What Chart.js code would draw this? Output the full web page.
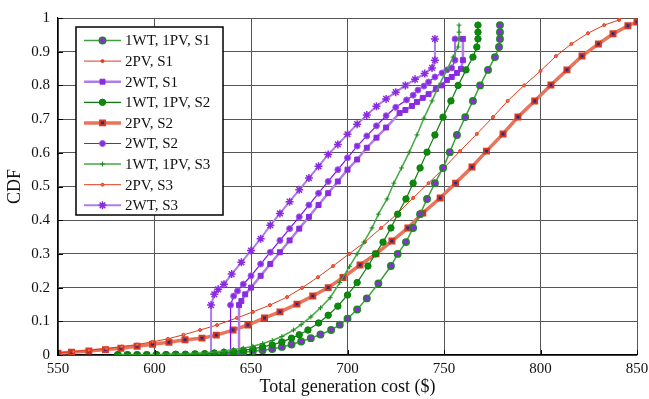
<!DOCTYPE html>
<html>
<head>
	<title>CDF of total generation cost</title>
	<style>
		body { margin: 0; background: #fff; }
		.chartBox { width: 649px; height: 399px; }
	</style>
</head>
<body>
	<div class="chartBox">
	<canvas id="cdfChart"></canvas>
	</div>

	<script src="https://cdn.jsdelivr.net/npm/chart.js@4.4.1/dist/chart.umd.min.js"></script>
	<script>
		// axis ticks
		var xTicks = [550, 600, 650, 700, 750, 800, 850];
		var yTicks = [0, 0.1, 0.2, 0.3, 0.4, 0.5, 0.6, 0.7, 0.8, 0.9, 1];

		// 1WT, 1PV curves (cost, cdf)
		var g1x = [581,586,591,596,601,606,611,616,621,626,631,636,641,646,651,656,661,666,671,676,681,686,691.5,696,700,705,710,716,722.5,726,730.3,734,737.6,741.2,745.3,749.5,753,756.7,761,765,768.7,772.8,776.4,778.5,779,779,779];
		var g1y = [0,0,0,0,0,0,0.001,0.001,0.002,0.002,0.003,0.004,0.006,0.008,0.011,0.014,0.018,0.024,0.031,0.04,0.05,0.061,0.074,0.09,0.108,0.135,0.168,0.212,0.264,0.3,0.335,0.377,0.418,0.463,0.51,0.555,0.602,0.653,0.706,0.754,0.8,0.846,0.884,0.914,0.938,0.958,0.979];
		var g2x = [581,586,591,596,601,606,611,616,621,626,631,636,641,646,651,656,661,666,671,675,679.5,685,690,695,700,705,710.6,714.5,718.4,722.5,726,730.3,734,737.6,741.2,745.3,749.5,753.6,757.3,761.4,765,767,767.6,767.6,767.6];
		var g2y = [0,0,0,0,0.001,0.001,0.002,0.002,0.003,0.004,0.006,0.008,0.01,0.014,0.018,0.024,0.03,0.039,0.05,0.06,0.074,0.095,0.118,0.145,0.178,0.215,0.264,0.3,0.335,0.377,0.418,0.463,0.51,0.555,0.602,0.653,0.706,0.754,0.8,0.846,0.884,0.914,0.938,0.958,0.979];
		var g3x = [581,586,591,596,601,606,611,616,621,626,631,636,641,646,651,656,661,666,672,676,681,686,691,696,701,705,708.5,712.7,716,720.5,724,728,732,736,739.6,743.8,747.4,751.5,754.7,757.3,757.8,757.8,757.8];
		var g3y = [0,0,0,0.001,0.001,0.002,0.003,0.004,0.005,0.007,0.009,0.012,0.016,0.02,0.026,0.034,0.043,0.055,0.074,0.09,0.113,0.14,0.17,0.215,0.262,0.3,0.335,0.377,0.418,0.463,0.51,0.555,0.602,0.653,0.703,0.754,0.8,0.846,0.884,0.914,0.938,0.958,0.979];

		// 2PV curves
		var r2x = [550,557,566,574.6,582.6,591,599,607.5,615.8,624.6,632,640.7,648.4,657,665,673.8,682,690,697.7,706.5,714.8,723,731.3,739,748,756,764.5,772,780.6,788.3,797,805.4,813.7,821.5,830,837.6,845.3,850];
		var r2y = [0.005,0.008,0.012,0.016,0.02,0.026,0.032,0.038,0.045,0.05,0.059,0.074,0.089,0.11,0.128,0.151,0.175,0.2,0.23,0.267,0.3,0.338,0.377,0.421,0.466,0.51,0.558,0.605,0.656,0.706,0.754,0.801,0.846,0.887,0.923,0.953,0.977,0.988];
		var r3x = [550,558,566,575,583,591,599,607,615,623.6,632.4,642.7,651,659.8,668.7,676.4,684.7,692.5,700.8,709,717.4,725.6,734,742,750.5,758.3,767,775.4,783,791.5,800,808,816,824.6,833,840.7,841];
		var r3y = [0.006,0.01,0.014,0.019,0.025,0.031,0.039,0.048,0.06,0.074,0.089,0.11,0.128,0.148,0.172,0.199,0.231,0.264,0.3,0.335,0.377,0.418,0.466,0.51,0.558,0.605,0.656,0.706,0.754,0.8,0.843,0.887,0.923,0.955,0.979,0.994,1];

		// 2WT curves
		var p1x = [643.8,643.8,645,647,650,655,660,665,670,675,680,685,690,695,700,705,710,715,720,727,730,733.4,736,739,742,745.8,749,751.5,754,756.7,758.8,759.8,759.8];
		var p1y = [0,0.148,0.16,0.18,0.2,0.235,0.27,0.305,0.34,0.375,0.41,0.445,0.48,0.515,0.55,0.58,0.615,0.645,0.675,0.718,0.727,0.739,0.751,0.763,0.774,0.789,0.8,0.816,0.825,0.837,0.849,0.875,0.938];
		var p2x = [639.4,639.4,641,643,646,650,655,660,665,670,675,680,685,690,695,700,705,710,715,720,725,730.6,734,736.5,739.6,742,745.3,749,751.5,754,755.7,755.7];
		var p2y = [0,0.148,0.175,0.19,0.21,0.235,0.27,0.305,0.34,0.375,0.41,0.445,0.48,0.515,0.55,0.585,0.62,0.65,0.68,0.71,0.735,0.757,0.771,0.786,0.798,0.81,0.825,0.837,0.846,0.852,0.875,0.938];
		var p3x = [629.3,629.3,631,633,636,640,645,650,655,660,665,670,675,680,685,690,695,700,705,710,715,720,725,730,735,740,743.8,745.3,745.3];
		var p3y = [0,0.148,0.18,0.195,0.21,0.24,0.275,0.31,0.345,0.385,0.42,0.455,0.49,0.525,0.56,0.595,0.625,0.655,0.685,0.712,0.738,0.76,0.78,0.8,0.818,0.835,0.852,0.875,0.938];

		function pts(xs, ys) {
			var out = [];
			for (var i = 0; i < xs.length; i++) out.push({x: xs[i], y: ys[i]});
			return out;
		}

		var purple = '#8a2be2';
		var seriesList = [
			{label: '1WT, 1PV, S1', data: pts(g1x, g1y), borderColor: '#3f9f3f', borderWidth: 1.5, pointStyle: 'circle', pointRadius: 3.2, pointBackgroundColor: purple, pointBorderColor: '#1e8a1e', pointBorderWidth: 1.5, order: 3},
			{label: '2PV, S1', data: pts(r2x, r2y), borderColor: '#e23a1c', borderWidth: 1, pointStyle: 'circle', pointRadius: 1.5, pointBackgroundColor: '#e23a1c', pointBorderColor: '#e23a1c', pointBorderWidth: 1, order: 9},
			{label: '2WT, S1', data: pts(p1x, p1y), borderColor: '#b07ce8', borderWidth: 2.5, pointStyle: 'rect', pointRadius: 3.5, pointBackgroundColor: purple, pointBorderColor: purple, pointBorderWidth: 1, order: 6},
			{label: '1WT, 1PV, S2', data: pts(g2x, g2y), borderColor: '#0c7d0c', borderWidth: 1.2, pointStyle: 'circle', pointRadius: 3.2, pointBackgroundColor: '#0c8a0c', pointBorderColor: '#0c7d0c', pointBorderWidth: 1, order: 2},
			{label: '2PV, S2', data: pts(r2x, r2y), borderColor: '#e8745c', borderWidth: 3.5, pointStyle: 'rect', pointRadius: 3.5, pointBackgroundColor: '#2b2b88', pointBorderColor: '#d63a22', pointBorderWidth: 2, order: 8},
			{label: '2WT, S2', data: pts(p2x, p2y), borderColor: '#7b10f0', borderWidth: 1.2, pointStyle: 'circle', pointRadius: 3, pointBackgroundColor: purple, pointBorderColor: '#a060f0', pointBorderWidth: 1, order: 5},
			{label: '1WT, 1PV, S3', data: pts(g3x, g3y), borderColor: '#45a845', borderWidth: 1.5, pointStyle: 'cross', pointRadius: 2.5, pointBackgroundColor: '#1e8a1e', pointBorderColor: '#1e8a1e', pointBorderWidth: 1, order: 1},
			{label: '2PV, S3', data: pts(r3x, r3y), borderColor: '#e23a1c', borderWidth: 1, pointStyle: 'circle', pointRadius: 1.5, pointBackgroundColor: '#e8745c', pointBorderColor: '#e23a1c', pointBorderWidth: 1, order: 7},
			{label: '2WT, S3', data: pts(p3x, p3y), borderColor: '#b07ce8', borderWidth: 2, pointStyle: 'star', pointRadius: 4, pointBackgroundColor: purple, pointBorderColor: purple, pointBorderWidth: 1.5, order: 4}
		];
		seriesList.forEach(function (s) { s.fill = false; s.tension = 0; s.pointHoverRadius = s.pointRadius; });

		var serif = '"Liberation Serif", "Times New Roman", serif';

		// matlab style legend box, inner ticks
		var decorations = {
			id: 'decorations',
			afterDraw: function (chart) {
				var ctx = chart.ctx;
				var area = chart.chartArea;
				var xs = chart.scales.x, ys = chart.scales.y;
				ctx.save();
				ctx.strokeStyle = '#000';
				ctx.lineWidth = 1;
				ctx.beginPath();
				xTicks.forEach(function (t) {
					var px = Math.round(xs.getPixelForValue(t)) + 0.5;
					ctx.moveTo(px, area.bottom); ctx.lineTo(px, area.bottom - 5);
				});
				yTicks.forEach(function (t) {
					var py = Math.round(ys.getPixelForValue(t)) + 0.5;
					ctx.moveTo(area.left, py); ctx.lineTo(area.left + 5, py);
				});
				ctx.stroke();

				var bx = 76, by = 27, bw = 147, bh = 188;
				ctx.fillStyle = '#fff';
				ctx.fillRect(bx, by, bw, bh);
				ctx.lineWidth = 1.5;
				ctx.strokeRect(bx, by, bw, bh);
				ctx.font = '15px ' + serif;
				ctx.textBaseline = 'middle';
				seriesList.forEach(function (s, i) {
					var y = 40.5 + i * 20.6;
					ctx.strokeStyle = s.borderColor;
					ctx.lineWidth = s.borderWidth;
					ctx.beginPath(); ctx.moveTo(84, y); ctx.lineTo(121, y); ctx.stroke();
					ctx.fillStyle = s.pointBackgroundColor;
					ctx.strokeStyle = s.pointBorderColor;
					ctx.lineWidth = s.pointBorderWidth;
					Chart.helpers.drawPoint(ctx, {pointStyle: s.pointStyle, radius: s.pointRadius, borderWidth: s.pointBorderWidth, rotation: 0}, 102.5, y);
					ctx.fillStyle = '#111';
					ctx.fillText(s.label, 125, y + 1);
				});
				ctx.restore();
			}
		};

		var ctx = document.getElementById('cdfChart').getContext('2d');
		var chart = new Chart(ctx, {
			type: 'line',
			data: { datasets: seriesList },
			options: {
				responsive: true,
				maintainAspectRatio: false,
				animation: false,
				layout: { padding: { top: 18, right: 12, left: 0, bottom: 0 } },
				plugins: { legend: { display: false }, tooltip: { enabled: false } },
				scales: {
					x: {
						type: 'linear', min: 550, max: 850,
						afterFit: function (scale) { scale.height = 44; scale.paddingRight = 0; scale.paddingLeft = 0; },
						afterBuildTicks: function (scale) { scale.ticks = xTicks.map(function (v) { return {value: v}; }); },
						grid: { color: '#555', lineWidth: 1, borderDash: [1, 4], drawTicks: false },
						border: { display: true, color: '#000', width: 1.2, dash: [] },
						ticks: { color: '#111', font: { family: serif, size: 15 }, padding: 5, maxRotation: 0 },
						title: { display: true, text: 'Total generation cost ($)', color: '#111', font: { family: serif, size: 18 }, padding: { top: 0, bottom: 1 } }
					},
					y: {
						type: 'linear', min: 0, max: 1,
						afterFit: function (scale) { scale.width = 58; },
						afterBuildTicks: function (scale) { scale.ticks = yTicks.map(function (v) { return {value: v}; }); },
						grid: { color: '#555', lineWidth: 1, borderDash: [1, 4], drawTicks: false },
						border: { display: true, color: '#000', width: 1.2 },
						ticks: { color: '#111', font: { family: serif, size: 15 }, padding: 8,
							callback: function (v) { return String(Math.round(v * 10) / 10); } },
						title: { display: true, text: 'CDF', color: '#111', font: { family: serif, size: 18 }, padding: { top: 4, bottom: 0 } }
					}
				}
			},
			plugins: [decorations]
		});
	</script>
</body>
</html>
